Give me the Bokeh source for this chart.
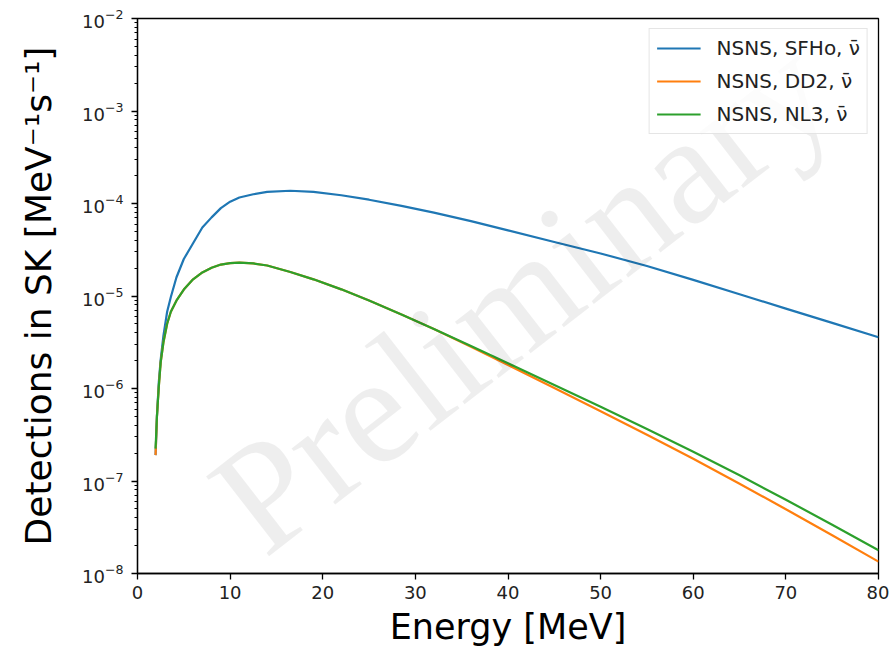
from bokeh.plotting import figure
from bokeh.models import Range1d, FixedTicker, LogTickFormatter, Legend, LegendItem, Label
from bokeh.embed import file_html
from bokeh.resources import INLINE

# ---- data ----
energy = [1.95, 2.1, 2.3, 2.5, 2.8, 3.2, 3.6, 4.2, 5.0, 6.0, 7.0, 8.0, 9.0, 10.0,
          11.0, 12.5, 14.0, 16.5, 19.0, 22.0, 25.0, 28.5, 32.0, 36.0, 40.0, 45.0,
          50.0, 55.0, 60.0, 65.0, 70.0, 75.0, 80.0]

sfho = [1.905e-7, 5.01e-7, 1.175e-6, 2.04e-6, 3.72e-6, 6.76e-6, 9.77e-6, 1.585e-5,
        2.51e-5, 3.72e-5, 5.50e-5, 7.08e-5, 8.91e-5, 1.047e-4, 1.161e-4, 1.259e-4,
        1.334e-4, 1.374e-4, 1.334e-4, 1.227e-4, 1.099e-4, 9.44e-5, 7.96e-5, 6.44e-5,
        5.12e-5, 3.84e-5, 2.88e-5, 2.109e-5, 1.493e-5, 1.045e-5, 7.31e-6, 5.12e-6,
        3.58e-6]

dd2 = [1.905e-7, 5.01e-7, 1.047e-6, 1.905e-6, 3.162e-6, 5.01e-6, 6.76e-6, 8.91e-6,
       1.175e-5, 1.514e-5, 1.799e-5, 2.018e-5, 2.188e-5, 2.265e-5, 2.291e-5, 2.249e-5,
       2.138e-5, 1.820e-5, 1.514e-5, 1.180e-5, 8.95e-6, 6.32e-6, 4.41e-6, 2.831e-6,
       1.795e-6, 1.012e-6, 5.69e-7, 3.162e-7, 1.738e-7, 9.35e-8, 4.94e-8, 2.588e-8,
       1.343e-8]

nl3 = [2.24e-7, 5.01e-7, 1.047e-6, 1.905e-6, 3.162e-6, 5.01e-6, 6.76e-6, 8.91e-6,
       1.175e-5, 1.514e-5, 1.799e-5, 2.018e-5, 2.188e-5, 2.265e-5, 2.291e-5, 2.249e-5,
       2.138e-5, 1.820e-5, 1.514e-5, 1.180e-5, 8.95e-6, 6.32e-6, 4.41e-6, 2.884e-6,
       1.871e-6, 1.089e-6, 6.34e-7, 3.65e-7, 2.075e-7, 1.153e-7, 6.27e-8, 3.37e-8,
       1.786e-8]

series_labels = ["NSNS, SFHo, \u03bd\u0304", "NSNS, DD2, \u03bd\u0304", "NSNS, NL3, \u03bd\u0304"]
series_colors = ["#1f77b4", "#ff7f0e", "#2ca02c"]

x_ticks = [0, 10, 20, 30, 40, 50, 60, 70, 80]
y_exponents = [-8, -7, -6, -5, -4, -3, -2]

x_label = "Energy [MeV]"
y_label = "Detections in SK [MeV\u207b\u00b9s\u207b\u00b9]"
watermark = "Preliminary"

FONT = "DejaVu Sans"

p = figure(width=889, height=650, output_backend="svg", toolbar_location=None,
           y_axis_type="log",
           x_range=Range1d(0, 80), y_range=Range1d(1e-8, 1e-2),
           min_border_left=137, min_border_right=11, min_border_top=18, min_border_bottom=77)

p.background_fill_color = "white"
p.border_fill_color = "white"
p.outline_line_color = "black"
p.outline_line_width = 1.3
p.xgrid.visible = False
p.ygrid.visible = False

# watermark
p.add_layout(Label(x=41.5, y=1.05e-5, text=watermark, angle=0.66,
                   text_align="center", text_baseline="middle",
                   text_font="Liberation Serif", text_font_size="155px",
                   text_color="#000000", text_alpha=0.065))

renderers = []
for ys, col in zip([sfho, dd2, nl3], series_colors):
    r = p.line(energy, ys, line_color=col, line_width=2.2)
    renderers.append(r)

# axes
xa = p.xaxis[0]
xa.ticker = FixedTicker(ticks=x_ticks)
ya = p.yaxis[0]
major = [10.0 ** e for e in y_exponents]
minor = [m * 10.0 ** e for e in y_exponents[:-1] for m in range(2, 10)]
ya.ticker = FixedTicker(ticks=major, minor_ticks=minor)
ya.formatter = LogTickFormatter()

for ax in (xa, ya):
    ax.axis_line_color = "black"
    ax.axis_line_width = 1.3
    ax.major_tick_line_color = "black"
    ax.major_tick_line_width = 1.3
    ax.major_tick_in = 0
    ax.major_tick_out = 6
    ax.minor_tick_line_color = "black"
    ax.minor_tick_line_width = 1.0
    ax.minor_tick_in = 0
    ax.minor_tick_out = 3
    ax.major_label_text_font = FONT
    ax.major_label_text_font_size = "18px"
    ax.major_label_text_color = "#222222"
    ax.axis_label_text_font = FONT
    ax.axis_label_text_font_style = "normal"
    ax.axis_label_text_color = "black"

xa.minor_tick_line_color = None
xa.axis_label = x_label
xa.axis_label_text_font_size = "35px"
xa.axis_label_standoff = 5
xa.major_label_standoff = 6

ya.axis_label = y_label
ya.axis_label_text_font_size = "36px"
ya.axis_label_standoff = 20
ya.major_label_standoff = 8

legend = Legend(items=[LegendItem(label=lab, renderers=[r]) for lab, r in zip(series_labels, renderers)],
                location="top_right")
legend.label_text_font = FONT
legend.label_text_font_size = "20px"
legend.label_text_color = "#222222"
legend.glyph_width = 44
legend.glyph_height = 24
legend.spacing = 9
legend.padding = 7
legend.margin = 10
legend.label_standoff = 16
legend.border_line_color = "#cccccc"
legend.border_line_width = 1
legend.background_fill_alpha = 0.8
p.add_layout(legend)

open("out.html", "w").write(file_html(p, INLINE))
